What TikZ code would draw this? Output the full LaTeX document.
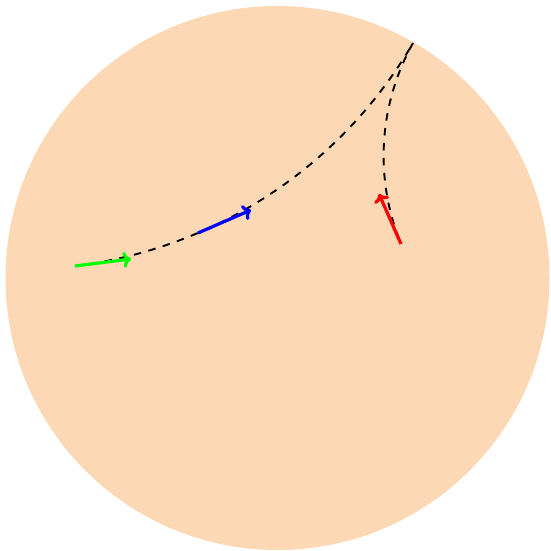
\documentclass[tikz,border=0pt]{standalone}
\usetikzlibrary{arrows.meta}
\definecolor{diskpeach}{RGB}{253,216,180}
\begin{document}
\begin{tikzpicture}[x=1pt,y=1pt,
  geod/.style={black,line width=1.9pt,dash pattern=on 7.5pt off 7.5pt},
  vec/.style={line width=3.2pt,-{To[length=8pt,width=16pt]}}]
\useasboundingbox (0,0) rectangle (550,551);
\fill[diskpeach] (277.5,273) circle[radius=272];
\coordinate (G0) at (75,285);
\coordinate (G1) at (131,292);
\coordinate (B0) at (198,318);
\coordinate (B1) at (251,341);
\coordinate (P)  at (413,508);
\coordinate (R0) at (401,307);
\coordinate (R1) at (379,357);
\draw[geod] (G0) to[bend right=26.4, looseness=0.9] (P);
\draw[geod] (P) to[bend right=25.7, looseness=0.9] (R0);
\draw[vec, green] (G0) -- (G1);
\draw[vec, blue] (B0) -- (B1);
\draw[vec, red] (R0) -- (R1);
\end{tikzpicture}
\end{document}
